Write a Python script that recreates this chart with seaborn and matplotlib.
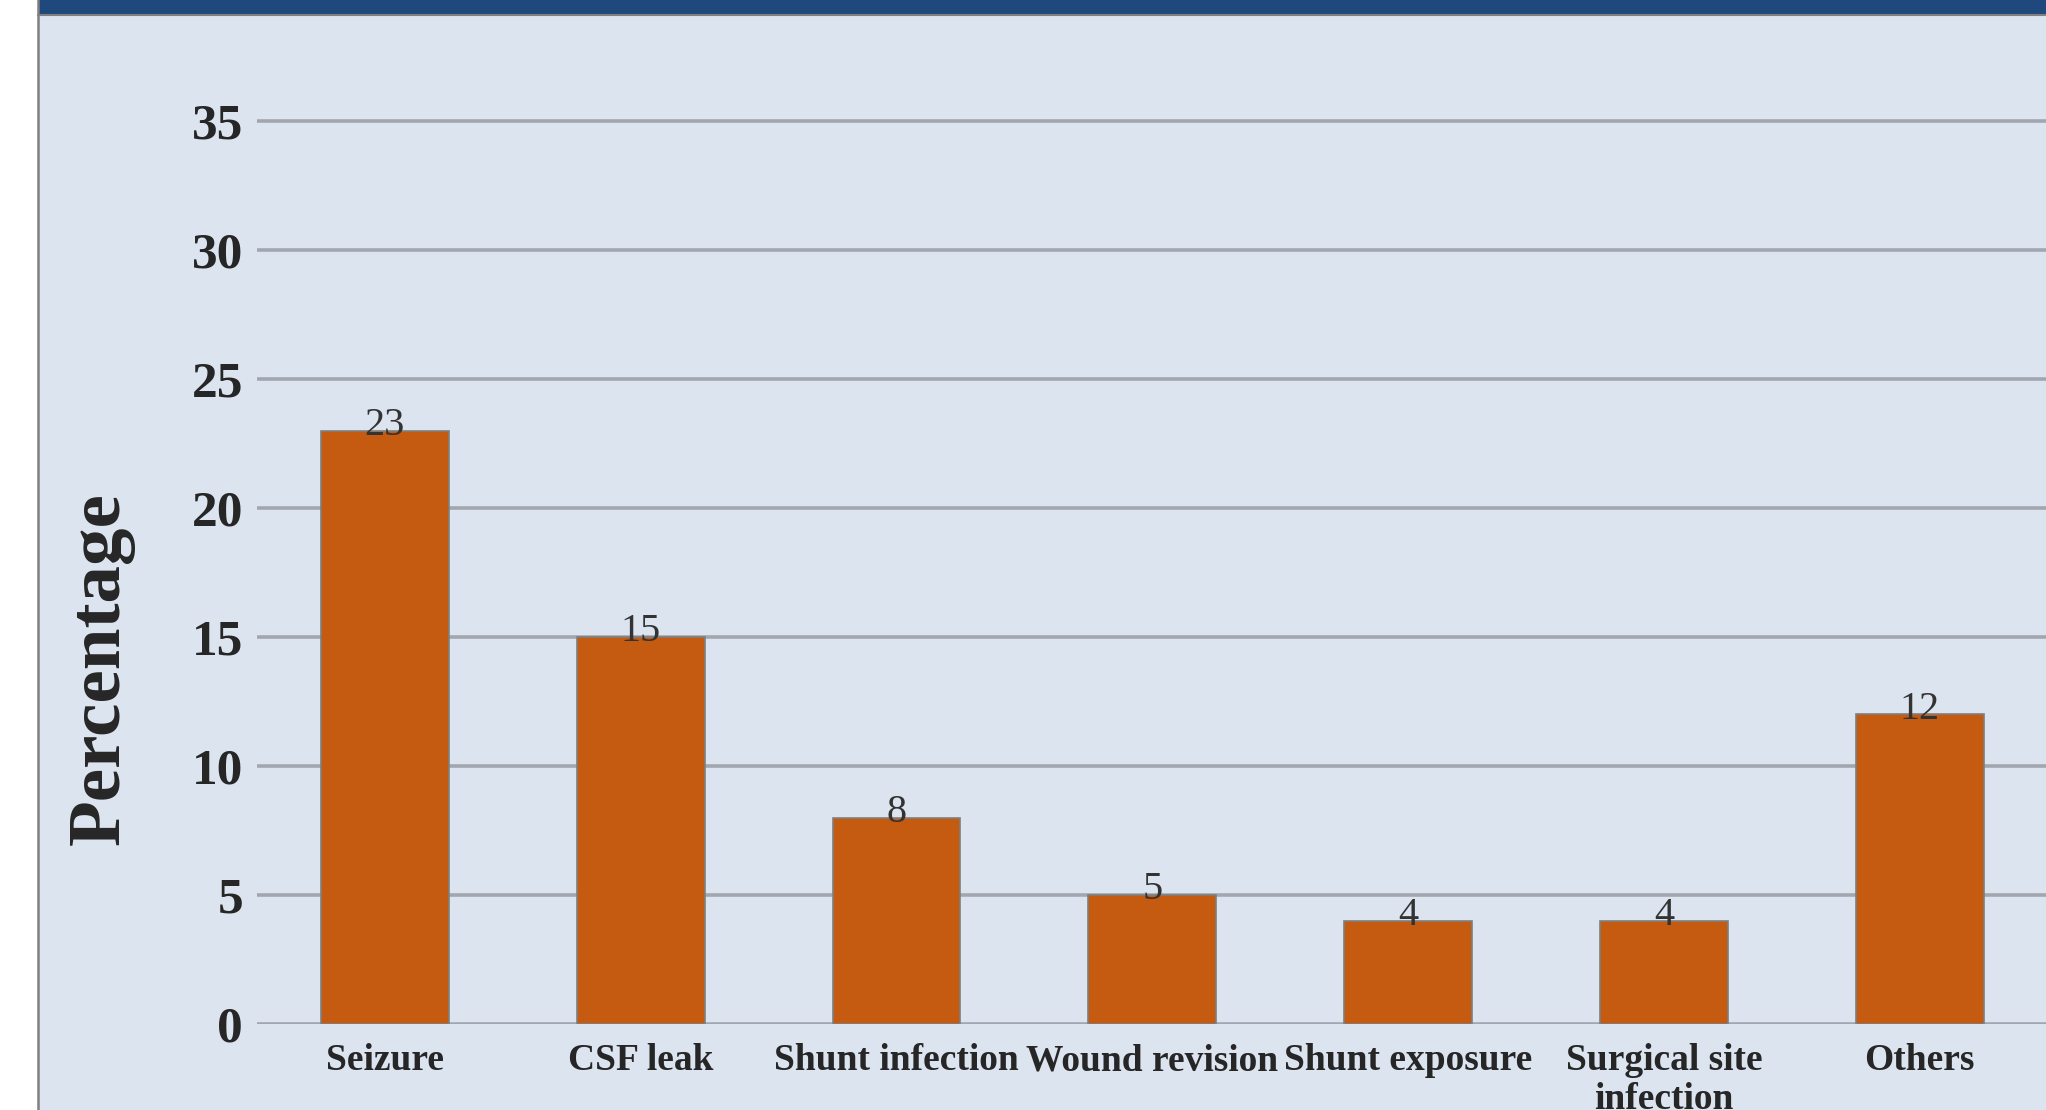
import matplotlib
matplotlib.use("Agg")
import matplotlib.pyplot as plt
import seaborn as sns
import pandas as pd
from matplotlib.patches import Rectangle
from matplotlib.lines import Line2D

categories = ["Seizure", "CSF leak", "Shunt infection", "Wound revision",
              "Shunt exposure", "Surgical site\ninfection", "Others"]
values = [23, 15, 8, 5, 4, 4, 12]
yticks = [0, 5, 10, 15, 20, 25, 30, 35]

W, H = 2046, 1110
sns.set_theme(style="white")
plt.rcParams['font.family'] = ['Liberation Serif', 'DejaVu Serif']

fig = plt.figure(figsize=(W / 100, H / 100), dpi=100, facecolor="white")

bg = "#DCE4F0"
# background panel
fig.patches.append(Rectangle((38 / W, 0), 1 - 38 / W, 1, transform=fig.transFigure,
                             facecolor=bg, edgecolor="none", zorder=-10))
# top band
fig.patches.append(Rectangle((38 / W, 1 - 14 / H), 1, 14 / H, transform=fig.transFigure,
                             facecolor="#1F497D", edgecolor="none", zorder=-9))
fig.lines.append(Line2D([38 / W, 1], [1 - 15 / H, 1 - 15 / H], transform=fig.transFigure,
                        color="#7F7F7F", lw=1.5, zorder=-8))
fig.lines.append(Line2D([38 / W, 38 / W], [0, 1], transform=fig.transFigure,
                        color="#7F7F7F", lw=1.8, zorder=-8))

ppu = 903 / 35.0
ax_left = 257 / W
ax_w = 7 * 255.8 / W
ax_bottom = (H - 1024) / H
ymax = 36
ax_h = ymax * ppu / H
ax = fig.add_axes([ax_left, ax_bottom, ax_w, ax_h])
ax.set_facecolor("none")

df = pd.DataFrame({"category": categories, "value": values})
sns.barplot(data=df, x="category", y="value", color="#C55A11", width=0.5,
            edgecolor="#7F7F7F", linewidth=1.2, saturation=1, ax=ax, zorder=3)

ax.set_xlim(-0.5, 6.5)
ax.set_ylim(0, ymax)
ax.set_yticks(yticks)
ax.set_yticklabels([str(t) for t in yticks], fontsize=37, fontweight="bold")
for t in yticks:
    ax.axhline(t, color="#A2A7AF", lw=2.6, zorder=1)
ax.tick_params(axis="y", length=0, pad=10)
ax.tick_params(axis="x", length=0, pad=14)
for lab in ax.get_xticklabels():
    lab.set_fontsize(27)
    lab.set_fontweight("bold")
    lab.set_linespacing(1.15)
for s in ax.spines.values():
    s.set_visible(False)

for i, v in enumerate(values):
    ax.annotate(str(v), (i, v), xytext=(0, -3), textcoords="offset points",
                ha="center", va="baseline", fontsize=29, color="#333333", zorder=4)

ax.set_xlabel("")
ax.set_ylabel("Percentage", fontsize=54, fontweight="bold")
ax.yaxis.label.set_va("center")
ax.yaxis.set_label_coords((101 - 257) / (7 * 255.8), ((H - 669) - (H - 1024)) / (ymax * ppu))

fig.savefig("out.png", dpi=100, facecolor="white")
